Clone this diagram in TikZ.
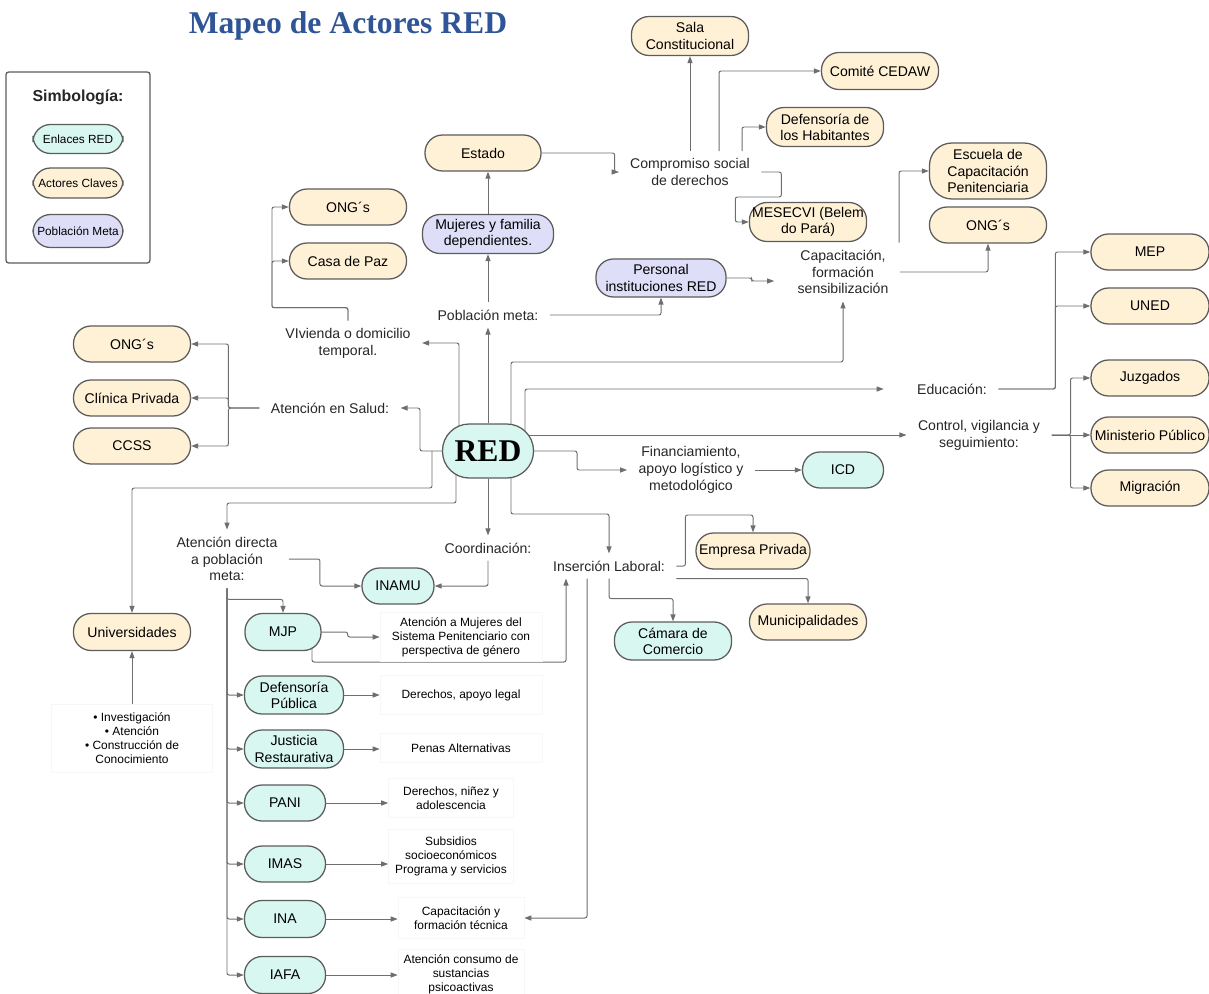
\documentclass[tikz,border=0pt]{standalone}
\usepackage{fontspec}
\setmainfont{Liberation Sans}
\newfontfamily\serifbf{Liberation Serif}
\usepackage{tikz}
\usetikzlibrary{arrows.meta,calc,backgrounds}

\definecolor{enlace}{HTML}{D8F7F1}
\definecolor{actor}{HTML}{FFF1D6}
\definecolor{meta}{HTML}{DEDEF9}
\definecolor{borde}{HTML}{5C5C5C}
\definecolor{linea}{HTML}{6E6E6E}
\definecolor{titulo}{HTML}{2F5597}

\begin{document}
\begin{tikzpicture}[x=0.025cm, y=-0.025cm,
	pill/.style={draw=borde, line width=0.9pt, rounded corners=12.5pt, align=center, inner sep=1pt, font=\fontsize{10}{11.5}\selectfont, minimum width=2.925cm, minimum height=0.9cm},
	enl/.style={pill, fill=enlace},
	act/.style={pill, fill=actor},
	pob/.style={pill, fill=meta},
	txt/.style={align=center, inner xsep=8pt, inner ysep=5pt, font=\fontsize{10}{12}\selectfont, text=black!85},
	desc/.style={draw=black!3, align=center, inner sep=1pt, font=\fontsize{8.5}{10}\selectfont},
	con/.style={draw=linea, line width=0.7pt, rounded corners=1.5pt, -{Triangle[length=5pt,width=3.6pt]}}]
	\useasboundingbox (0,0) rectangle (1209,993);
	
	\node[font=\serifbf\bfseries\fontsize{22.5}{27}\selectfont, text=titulo] (tit) at (348,26) {Mapeo de Actores RED};
	
	\node[draw=borde, line width=0.9pt, rounded corners=2pt, minimum width=3.6cm, minimum height=4.775cm] (leg) at (78,167.5) {};
	\node[font=\bfseries\fontsize{11.3}{13}\selectfont, text=black!85] (simb) at (78,97) {Simbología:};
	\node[enl, minimum width=2.25cm, minimum height=0.725cm, font=\fontsize{8.4}{10}\selectfont] (lenl) at (78,139) {Enlaces RED};
	\node[act, minimum width=2.25cm, minimum height=0.75cm, font=\fontsize{8.4}{10}\selectfont] (lact) at (78,183) {Actores Claves};
	\node[pob, minimum width=2.25cm, minimum height=0.825cm, font=\fontsize{8.4}{10}\selectfont] (lpob) at (78,231) {Población Meta};
	
	\node[enl, minimum width=2.275cm, minimum height=1.35cm, rounded corners=19pt, font=\serifbf\bfseries\fontsize{22.5}{27}\selectfont] (red) at (488,451) {RED};
	
	\node[act, minimum height=0.975cm] (sala) at (690,36) {Sala\\Constitucional};
	\node[act, minimum height=0.925cm] (cedaw) at (880,71) {Comité CEDAW};
	\node[act, minimum height=0.975cm] (defh) at (825,127) {Defensoría de\\los Habitantes};
	\node[act, minimum width=2.9cm] (est) at (483,153) {Estado};
	\node[txt] (comp) at (690,172) {Compromiso social\\de derechos};
	\node[act, minimum height=0.975cm] (mes) at (808,222) {MESECVI (Belem\\do Pará)};
	\node[act, minimum height=1.4cm, rounded corners=16pt] (esc) at (988,171) {Escuela de\\Capacitación\\Penitenciaria};
	\node[act] (ong3) at (988,225) {ONG´s};
	\node[txt] (cap) at (843,272) {Capacitación,\\formación\\sensibilización};
	\node[pob, minimum width=3.25cm, minimum height=0.95cm] (pers) at (661,278) {Personal\\instituciones RED};
	\node[pob, minimum width=3.275cm, minimum height=0.975cm] (muj) at (488,234) {Mujeres y familia\\dependientes.};
	\node[txt] (pm) at (488,315) {Población meta:};
	
	\node[act] (ong1) at (348,207) {ONG´s};
	\node[act] (casa) at (348,261) {Casa de Paz};
	\node[txt] (viv) at (348,343) {VIvienda o domicilio\\temporal.};
	\node[act] (ong2) at (132,344) {ONG´s};
	\node[act] (clin) at (132,398) {Clínica Privada};
	\node[act] (ccss) at (132,446) {CCSS};
	\node[txt] (sal) at (330,408) {Atención en Salud:};
	
	\node[txt] (fin) at (691,470) {Financiamiento,\\apoyo logístico y\\metodológico};
	\node[enl, minimum width=2.025cm] (icd) at (843,470) {ICD};
	\node[txt] (edu) at (952,389) {Educación:};
	\node[txt] (ctrl) at (979,435) {Control, vigilancia y\\seguimiento:};
	\node[act, minimum width=2.95cm] (mep) at (1150,252) {MEP};
	\node[act, minimum width=2.95cm] (uned) at (1150,306) {UNED};
	\node[act, minimum width=2.95cm] (juz) at (1150,378) {Juzgados};
	\node[act, minimum width=2.95cm] (min) at (1150,435) {Ministerio Público};
	\node[act, minimum width=2.95cm] (mig) at (1150,488) {Migración};
	
	\node[txt] (ins) at (609,566) {Inserción Laboral:};
	\node[act, minimum width=2.85cm] (emp) at (753,551) {Empresa Privada};
	\node[act] (mun) at (808,622) {Municipalidades};
	\node[enl, minimum height=0.95cm] (cam) at (673,641) {Cámara de\\Comercio};
	\node[txt] (coord) at (488,548) {Coordinación:};
	\node[enl, minimum width=1.8cm] (inamu) at (398,586) {INAMU};
	\node[txt] (atd) at (227,559) {Atención directa\\a población\\meta:};
	
	\node[act, minimum height=0.925cm] (univ) at (132,632) {Universidades};
	\node[desc, minimum width=4.025cm, minimum height=1.7cm] (bul) at (132,738) {• Investigación\\• Atención\\• Construcción de\\Conocimiento};
	
	\node[enl, minimum width=1.9cm, minimum height=0.925cm] (mjp) at (283,632) {MJP};
	\node[enl, minimum width=2.475cm, minimum height=0.95cm] (defp) at (294,695) {Defensoría\\Pública};
	\node[enl, minimum width=2.475cm, minimum height=0.95cm] (just) at (294,749) {Justicia\\Restaurativa};
	\node[enl, minimum width=2.025cm] (pani) at (285,803) {PANI};
	\node[enl, minimum width=2.025cm] (imas) at (285,864) {IMAS};
	\node[enl, minimum width=2.025cm, minimum height=0.925cm] (ina) at (285,919) {INA};
	\node[enl, minimum width=2.025cm, minimum height=0.925cm] (iafa) at (285,975) {IAFA};
	
	\node[desc, minimum width=4.05cm, minimum height=1.225cm] (atm) at (461,637) {Atención a Mujeres del\\Sistema Penitenciario con\\perspectiva de género};
	\node[desc, minimum width=4.05cm, minimum height=0.975cm] (dal) at (461,695) {Derechos, apoyo legal};
	\node[desc, minimum width=4.05cm, minimum height=0.725cm] (pen) at (461,748) {Penas Alternativas};
	\node[desc, minimum width=3.125cm, minimum height=0.975cm] (dni) at (451,798) {Derechos, niñez y\\adolescencia};
	\node[desc, minimum width=3.125cm, minimum height=1.35cm] (sub) at (451,856) {Subsidios\\socioeconómicos\\Programa y servicios};
	\node[desc, minimum width=3.15cm, minimum height=1.025cm] (capt) at (461,918) {Capacitación y\\formación técnica};
	\node[desc, minimum width=3.15cm, minimum height=1.25cm] (cons) at (461,974) {Atención consumo de\\sustancias\\psicoactivas};
	
	\begin{scope}[on background layer]
		\draw[con] (est.east) -- ++(73,0) |- (comp.west);
		\draw[con] (comp.north) -- (sala.south);
		\draw[con] ($(comp.north)+(29,0)$) |- (cedaw.west);
		\draw[con] ($(comp.north)+(52,0)$) |- (defh.west);
		\draw[con] (comp.east) -- ++(20,0) -- ++(0,25) -- ++(-46,0) |- (mes.west);
		\draw[con] (pm.north) -- (muj.south);
		\draw[con] (muj.north) -- (muj.north |- est.south);
		\draw[con] (pm.east) -| (pers.south);
		\draw[con] (pers.east) -- ++(25,0) |- ($(cap.west)+(-12,9)$);
		\draw[con] ($(cap.north)+(56,0)$) |- (esc.west);
		\draw[con] (cap.east) -| (ong3.south);
		
		\draw[con] (red) -- (pm.south);
		\draw[con] ($(red)+(23,0)$) -- ++(0,-89) -| (cap.south);
		\draw[con] ($(red)+(37,0)$) |- ([xshift=-0.55cm]edu.west);
		\draw[con] ($(red)+(0,-16)$) -- (ctrl.west);
		\draw[con] (red) -- ++(89,0) |- (fin.west);
		\draw[con] (fin.east) -- (icd.west);
		\draw[con] ($(red)+(-29,0)$) |- (viv.east);
		\draw[con] (red) -- ++(-68,0) |- (sal.east);
		\draw[con] ($(red)+(-56,0)$) -- ++(0,37) -| (univ.north);
		\draw[con] ($(red)+(-32,0)$) -- ++(0,52) -| (atd.north);
		\draw[con] (red) -- (coord.north);
		\draw[con] ($(red)+(23,0)$) -- ++(0,63) -| (ins.north);
		
		\draw[con] (edu.east) -- ++(57,0) |- (mep.west);
		\draw[con] (edu.east) -- ++(57,0) |- (uned.west);
		\draw[con] (ctrl.east) -- (min.west);
		\draw[con] (ctrl.east) -- ++(19,0) |- (juz.west);
		\draw[con] (ctrl.east) -- ++(19,0) |- (mig.west);
		
		\draw[con] (viv.north) -- ++(0,-13) -- ++(-76,0) |- (ong1.west);
		\draw[con] (viv.north) -- ++(0,-13) -- ++(-76,0) |- (casa.west);
		\draw[con] (sal.west) -- ++(-31,0) |- (ong2.east);
		\draw[con] (sal.west) -- ++(-31,0) |- (clin.east);
		\draw[con] (sal.west) -- ++(-31,0) |- (ccss.east);
		
		\draw[con] (coord.south) |- (inamu.east);
		\draw[con] (atd.east) -- ++(31,0) |- (inamu.west);
		\draw[con] (ins.east) -- ++(9,0) -- ++(0,-51) -| (emp.north);
		\draw[con] (ins.south east) -| (mun.north);
		\draw[con] (ins.south) -- ++(0,20) -| (cam.north);
		\draw[con] ($(ins.south)+(-22,0)$) |- (capt.east);
		\draw[con] (bul.north) -- (univ.south);
		
		\draw[con] (atd.south) -- ++(0,11) -| (mjp.north);
		\foreach \n in {defp,just,pani,imas,ina,iafa}
			\draw[con] (atd.south) |- (\n.west);
		\draw[con] (mjp.east) -- ++(26,0) |- (atm.west);
		\draw[con] ($(mjp)+(29,0)$) -- ++(0,30) -| ($(ins.south)+(-43,0)$);
		\foreach \a/\b in {defp/dal,just/pen,pani/dni,imas/sub,ina/capt,iafa/cons}
			\draw[con] (\a.east) -- (\a.east -| \b.west);
	\end{scope}
\end{tikzpicture}
\end{document}
